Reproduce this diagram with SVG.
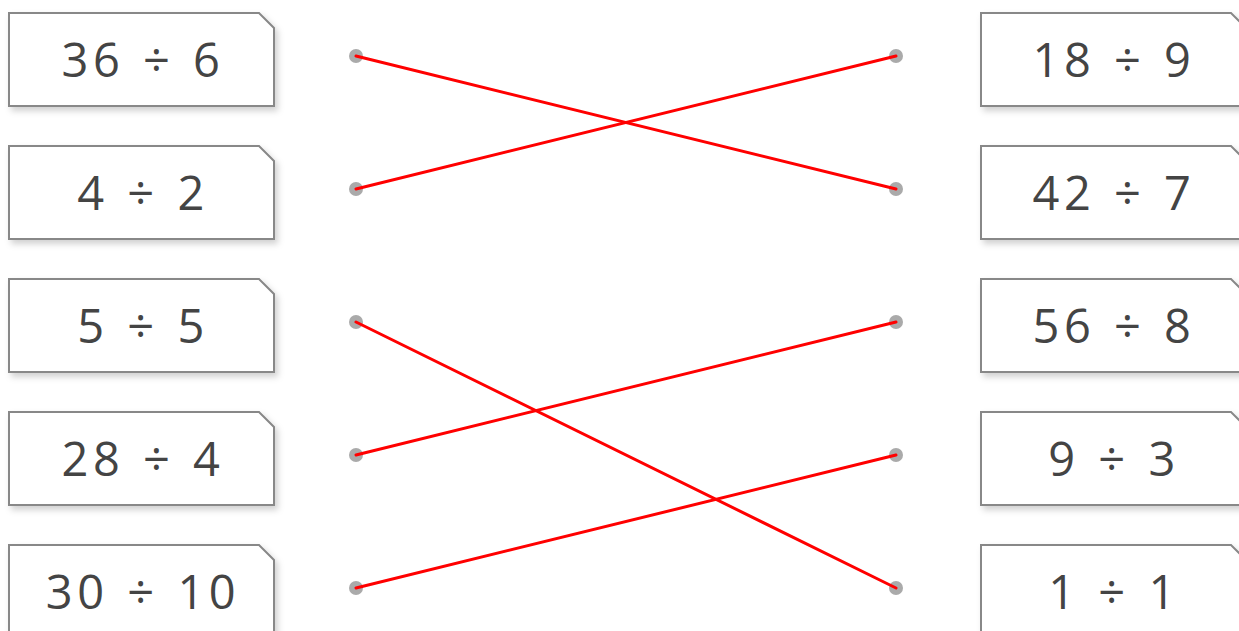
<svg xmlns="http://www.w3.org/2000/svg" width="1239" height="631" viewBox="0 0 1239 631">
<style>
.box{fill:#fff;stroke:#888;stroke-width:2;filter:url(#sh)}
.t{font-family:"Open Sans","Liberation Sans",sans-serif;font-size:47px;fill:#444;text-anchor:middle;letter-spacing:4.5px;word-spacing:2px}
.dot{fill:#aaa}
.ln{stroke:#f00;stroke-width:3;stroke-linecap:round}
</style>
<defs>
<filter id="sh" x="-10%" y="-20%" width="130%" height="150%">
<feDropShadow dx="3" dy="4" stdDeviation="3" flood-color="#000" flood-opacity="0.18"/>
</filter>
<path id="b" d="M0,0 H250 L265,15 V93 H0 Z"/>
</defs>
<g id="L1"><use href="#b" class="box" x="9" y="13"/><text class="t" x="143" y="77">36 ÷ 6</text></g>
<g id="L2"><use href="#b" class="box" x="9" y="146"/><text class="t" x="143" y="210">4 ÷ 2</text></g>
<g id="L3"><use href="#b" class="box" x="9" y="279"/><text class="t" x="143" y="343">5 ÷ 5</text></g>
<g id="L4"><use href="#b" class="box" x="9" y="412"/><text class="t" x="143" y="476">28 ÷ 4</text></g>
<g id="L5"><use href="#b" class="box" x="9" y="545"/><text class="t" x="143" y="609">30 ÷ 10</text></g>
<g id="R1"><use href="#b" class="box" x="981" y="13"/><text class="t" x="1114" y="77">18 ÷ 9</text></g>
<g id="R2"><use href="#b" class="box" x="981" y="146"/><text class="t" x="1114" y="210">42 ÷ 7</text></g>
<g id="R3"><use href="#b" class="box" x="981" y="279"/><text class="t" x="1114" y="343">56 ÷ 8</text></g>
<g id="R4"><use href="#b" class="box" x="981" y="412"/><text class="t" x="1114" y="476">9 ÷ 3</text></g>
<g id="R5"><use href="#b" class="box" x="981" y="545"/><text class="t" x="1114" y="609">1 ÷ 1</text></g>
<g id="dots">
<circle class="dot" cx="356" cy="56" r="7"/><circle class="dot" cx="356" cy="189" r="7"/><circle class="dot" cx="356" cy="322" r="7"/><circle class="dot" cx="356" cy="455" r="7"/><circle class="dot" cx="356" cy="588" r="7"/>
<circle class="dot" cx="896" cy="56" r="7"/><circle class="dot" cx="896" cy="189" r="7"/><circle class="dot" cx="896" cy="322" r="7"/><circle class="dot" cx="896" cy="455" r="7"/><circle class="dot" cx="896" cy="588" r="7"/>
</g>
<g id="connectors">
<line class="ln" x1="356" y1="56" x2="896" y2="189"/>
<line class="ln" x1="356" y1="189" x2="896" y2="56"/>
<line class="ln" x1="356" y1="322" x2="896" y2="588"/>
<line class="ln" x1="356" y1="455" x2="896" y2="322"/>
<line class="ln" x1="356" y1="588" x2="896" y2="455"/>
</g>
</svg>
